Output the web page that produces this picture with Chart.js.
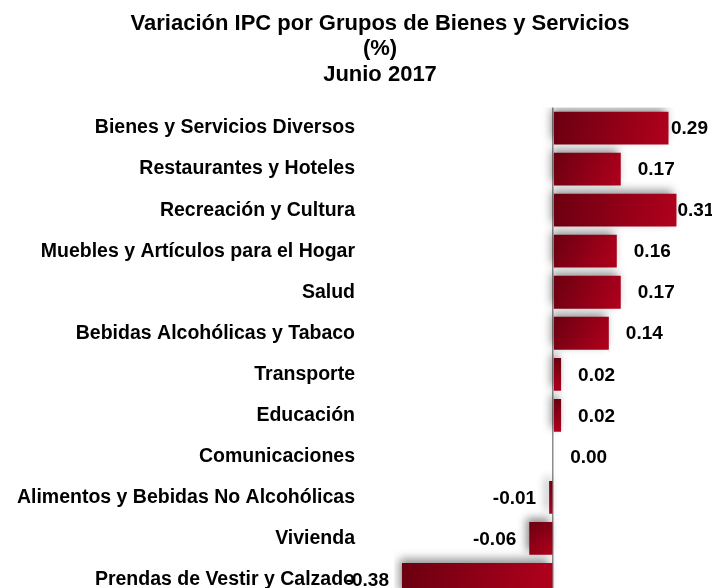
<!DOCTYPE html>
<html>
<head>
<meta charset="utf-8">
<script src="https://cdn.jsdelivr.net/npm/chart.js@4/dist/chart.umd.min.js"></script>
<style>
	html, body { margin: 0; padding: 0; background: #ffffff; overflow: hidden; }
	canvas { display: block; }
</style>
</head>
<body>
<!-- canvas is a bit wider than the 712px window so the title centres where the reference has it -->
<canvas id="ipc-chart" width="760" height="602"></canvas>
<script>
const titleLines = ["Variación IPC por Grupos de Bienes y Servicios", "(%)", "Junio 2017"];

const categories = [
	"Bienes y Servicios Diversos"
	, "Restaurantes y Hoteles"
	, "Recreación y Cultura"
	, "Muebles y Artículos para el Hogar"
	, "Salud"
	, "Bebidas Alcohólicas y Tabaco"
	, "Transporte"
	, "Educación"
	, "Comunicaciones"
	, "Alimentos y Bebidas No Alcohólicas"
	, "Vivienda"
	, "Prendas de Vestir y Calzado"
];

const variation = [0.29, 0.17, 0.31, 0.16, 0.17, 0.14, 0.02, 0.02, 0.00, -0.01, -0.06, -0.38];

const FONT = "'Liberation Sans', Arial, sans-serif";
const VISIBLE_W = 712;

// diagonal dark-to-bright red fill per bar, plus the soft grey shadow
const barLook = {
	id: "barLook"
	, beforeDatasetsDraw(chart) {
		const ctx = chart.ctx;
		chart.getDatasetMeta(0).data.forEach(bar => {
			const { x, y, base, height } = bar.getProps(["x", "y", "base", "height"], true);
			const left = Math.min(x, base), right = Math.max(x, base);
			const top = y - height / 2, bottom = y + height / 2;
			const g = ctx.createLinearGradient(left, top, right + 1, bottom);
			g.addColorStop(0, "#6a0010");
			g.addColorStop(1, "#b3001d");
			bar.options.backgroundColor = g;
		});
		ctx.save();
		ctx.shadowColor = "rgba(0, 0, 0, 0.45)";
		ctx.shadowBlur = 9;
		ctx.shadowOffsetX = -3;
		ctx.shadowOffsetY = -4;
	}
	, afterDatasetsDraw(chart) {
		chart.ctx.restore();
	}
};

// value labels outside the bar end
const valueLabels = {
	id: "valueLabels"
	, afterDraw(chart) {
		const ctx = chart.ctx;
		ctx.save();
		ctx.font = "bold 19px " + FONT;
		ctx.fillStyle = "#000000";
		ctx.textBaseline = "middle";
		chart.getDatasetMeta(0).data.forEach((bar, i) => {
			const v = variation[i];
			const txt = v.toFixed(2);
			const w = ctx.measureText(txt).width;
			if (v < 0) {
				ctx.textAlign = "right";
				ctx.fillText(txt, bar.x - 13, bar.y + 1);
			} else {
				ctx.textAlign = "left";
				let tx = bar.x + 17;
				if (tx + w > VISIBLE_W - 4) tx = Math.max(bar.x + 1, VISIBLE_W - 4 - w);
				ctx.fillText(txt, tx, bar.y + 1);
			}
		});
		ctx.restore();
	}
};

new Chart(document.getElementById("ipc-chart"), {
	type: "bar"
	, data: {
		labels: categories
		, datasets: [{
			data: variation
			, backgroundColor: () => "#8c0016"
			, borderWidth: 0
			, categoryPercentage: 1
			, barPercentage: 0.8
		}]
	}
	, plugins: [barLook, valueLabels]
	, options: {
		indexAxis: "y"
		, responsive: false
		, animation: false
		, layout: {
			autoPadding: false
			, padding: { left: 0, right: 0, top: 11, bottom: 2 }
		}
		, plugins: {
			legend: { display: false }
			, tooltip: { enabled: false }
			, title: {
				display: true
				, text: titleLines
				, color: "#000000"
				, font: { family: FONT, size: 22, weight: "bold", lineHeight: 1.16 }
				, padding: { top: 0, bottom: 20 }
			}
		}
		, scales: {
			x: {
				min: -0.4
				, max: 0.52
				, border: { display: false }
				, ticks: { display: false, stepSize: 0.4 }
				, grid: {
					drawTicks: false
					, color: c => c.tick && c.tick.value === 0 ? "#8c8c8c" : "rgba(0,0,0,0)"
					, lineWidth: 1.5
				}
			}
			, y: {
				border: { display: false }
				, grid: { display: false, drawTicks: false }
				, afterFit: scale => {
					// the big tick padding is only meant to push labels left, not to shrink the plot
					scale.width = 394;
					scale.paddingTop = 0;
					scale.paddingBottom = 0;
				}
				, ticks: {
					padding: 39
					, color: "#000000"
					, font: { family: FONT, size: 19.5, weight: "bold" }
				}
			}
		}
	}
});
</script>
</body>
</html>
